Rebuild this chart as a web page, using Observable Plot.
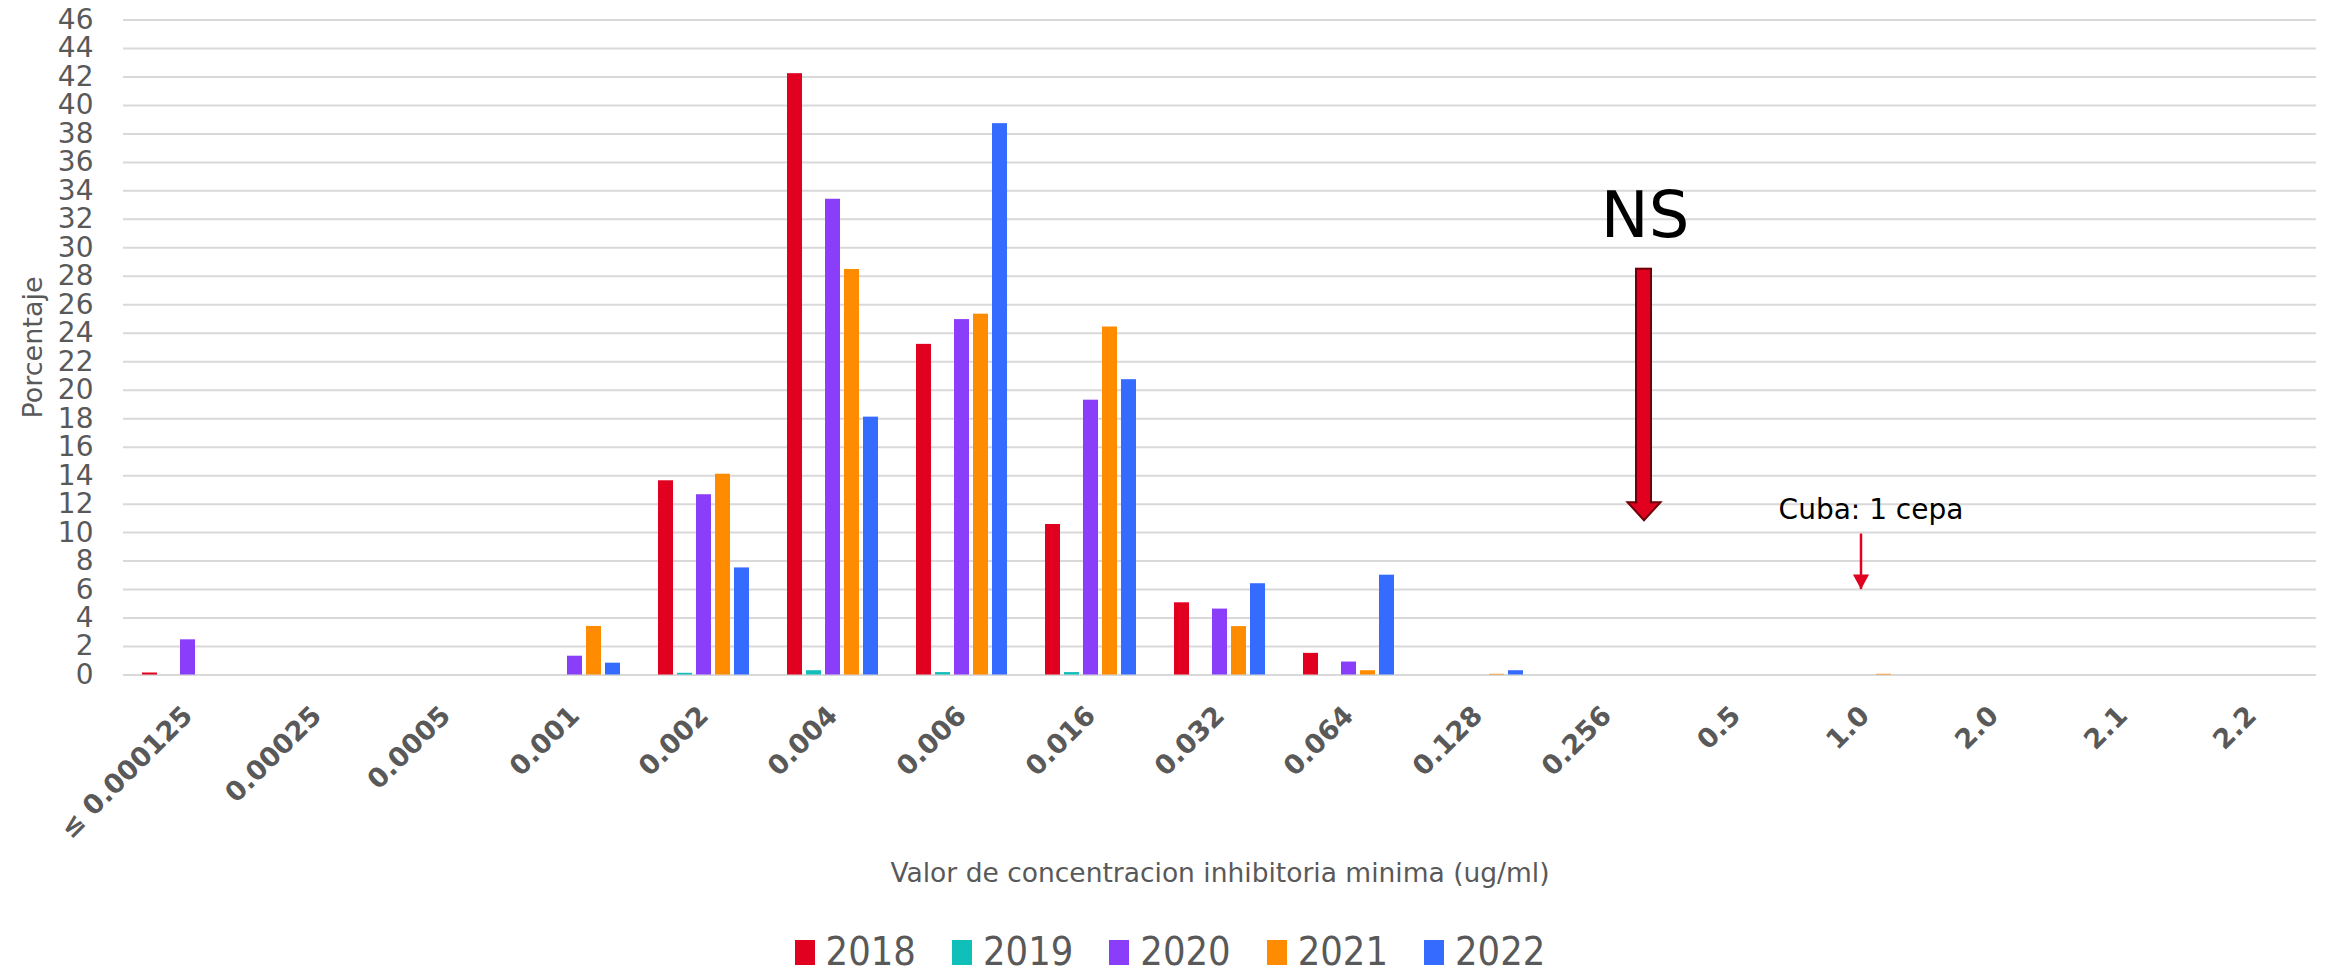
<!DOCTYPE html>
<html><head><meta charset="utf-8">
<script src="https://cdn.jsdelivr.net/npm/d3@7"></script>
<script src="https://cdn.jsdelivr.net/npm/@observablehq/plot@0.6"></script>
<style>
html,body{margin:0;padding:0;background:#fff;overflow:hidden;}
#chart svg{display:block;}
#legend{display:flex;justify-content:center;align-items:center;height:36px;padding-top:34px;padding-left:12px;font-family:"DejaVu Sans";font-size:35.5px;color:#595959;line-height:36px;}
.item{display:flex;align-items:center;margin:0 18px;}
.sw{width:20px;height:25px;margin-right:11px;}
.item span{display:inline-block;transform:scaleY(1.12);}
</style></head><body><div id="chart"></div><div id="legend"></div>
<script>
const categories = ["≤ 0.000125","0.00025","0.0005","0.001","0.002","0.004","0.006","0.016","0.032","0.064","0.128","0.256","0.5","1.0","2.0","2.1","2.2"];
const years = ["2018","2019","2020","2021","2022"];
const colors = ["#e1001f","#10bfb9","#8b3efa","#ff8c00","#356cff"];
const v2018 = [0.14,0,0,0,13.64,42.23,23.22,10.57,5.07,1.52,0,0,0,0,0,0,0];
const v2019 = [0,0,0,0,0.12,0.30,0.17,0.17,0,0,0,0,0,0,0,0,0];
const v2020 = [2.47,0,0,1.32,12.66,33.41,24.96,19.30,4.63,0.91,0,0,0,0,0,0,0];
const v2021 = [0,0,0,3.41,14.10,28.48,25.34,24.44,3.40,0.30,0.05,0,0,0.05,0,0,0];
const v2022 = [0,0,0,0.83,7.52,18.11,38.72,20.74,6.41,7.01,0.30,0,0,0,0,0,0];
const yTicks = [0,2,4,6,8,10,12,14,16,18,20,22,24,26,28,30,32,34,36,38,40,42,44,46];
const xTitleText = "Valor de concentracion inhibitoria minima (ug/ml)";
const yTitleText = "Porcentaje";
// annotations (data units)
const nsArrow = [{cat: "0.256", year: "2022", top: 28.5, base: 12.1, tip: 10.87}];
const nsLabel = [{cat: "0.256", year: "2022", y: 32.2, text: "NS"}];
const cubaArrow = [{cat: "1.0", year: "2020", top: 9.9, tip: 6.0}];
const cubaLabel = [{cat: "1.0", year: "2020", y: 11.6, text: "Cuba: 1 cepa"}];

const series = [v2018, v2019, v2020, v2021, v2022];
const rows = [];
years.forEach((yr, j) => categories.forEach((c, i) => {
  rows.push({cat: c, year: yr, value: series[j][i]});
}));
const xTitle = [{cat: categories[8], text: xTitleText}];
const yTitle = [{cat: categories[0], text: yTitleText}];

const red = "#e1001f", darkRed = "#6e0008";
const downTri = (w, h) => ({draw(ctx) { ctx.moveTo(0, 0); ctx.lineTo(-w / 2, -h); ctx.lineTo(w / 2, -h); ctx.closePath(); }});

const chart = Plot.plot({
  width: 2328, height: 900,
  marginLeft: 117, marginRight: 7, marginTop: 19.5, marginBottom: 225.5,
  style: {fontFamily: "DejaVu Sans", background: "#fff"},
  fx: {domain: categories, padding: 0},
  x: {domain: years, paddingInner: 0.216, paddingOuter: 0.866, axis: null},
  y: {domain: [0, 46]},
  color: {domain: years, range: colors},
  marks: [
    Plot.gridY(yTicks, {stroke: "#d9d9d9", strokeOpacity: 1, strokeWidth: 2}),
    Plot.axisY(yTicks, {tickSize: 0, tickPadding: 30, fontSize: 28, color: "#595959", label: null}),
    Plot.axisFx({anchor: "bottom", tickSize: 0, tickPadding: 36, tickRotate: -45, fontSize: 27, fontWeight: "bold", color: "#595959", label: null}),
    Plot.barY(rows, {fx: "cat", x: "year", y: "value", fill: "year"}),
    Plot.text(xTitle, {fx: "cat", text: "text", frameAnchor: "bottom", textAnchor: "middle", lineAnchor: "middle", dy: 198.5, fontSize: 26.5, fill: "#595959"}),
    Plot.text(yTitle, {fx: "cat", text: "text", frameAnchor: "left", textAnchor: "middle", lineAnchor: "middle", rotate: -90, dx: -90, fontSize: 27, fill: "#595959"}),
    Plot.dot(nsArrow, {fx: "cat", x: "year", y: "tip", symbol: downTri(33, 18), r: 10, fill: red, stroke: darkRed, strokeWidth: 2, dx: -1}),
    Plot.barY(nsArrow, {fx: "cat", x: "year", y1: "base", y2: "top", fill: red, stroke: darkRed, strokeWidth: 2, dx: -1}),
    Plot.barY(nsArrow, {fx: "cat", x: "year", y1: d => d.base - 0.25, y2: d => d.base + 0.25, fill: red, insetLeft: 1.3, insetRight: 1.3, dx: -1}),
    Plot.text(nsLabel, {fx: "cat", x: "year", y: "y", text: "text", fontSize: 64, fill: "#000", dx: 0}),
    Plot.ruleX(cubaArrow, {fx: "cat", x: "year", y1: "top", y2: "tip", stroke: red, strokeWidth: 2.5, dx: -4}),
    Plot.dot(cubaArrow, {fx: "cat", x: "year", y: "tip", symbol: downTri(16, 15), r: 8, fill: red, stroke: "none", dx: -4}),
    Plot.text(cubaLabel, {fx: "cat", x: "year", y: "y", text: "text", fontSize: 28, fill: "#000", dx: 6})
  ]
});
document.getElementById("chart").appendChild(chart);

const legend = document.getElementById("legend");
years.forEach((yr, j) => {
  const item = document.createElement("div");
  item.className = "item";
  const sw = document.createElement("div");
  sw.className = "sw";
  sw.style.background = colors[j];
  const t = document.createElement("span");
  t.textContent = yr;
  item.appendChild(sw); item.appendChild(t);
  legend.appendChild(item);
});
</script>
</body></html>
